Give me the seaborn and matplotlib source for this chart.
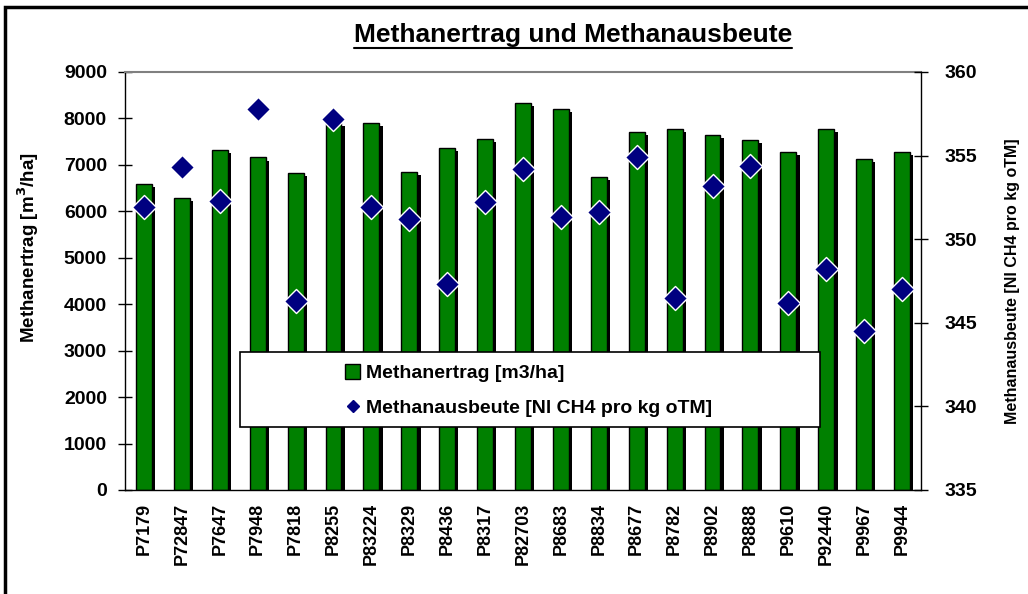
import numpy as np
import pandas as pd
import seaborn as sns
import matplotlib.pyplot as plt
from matplotlib import patheffects as pe
from matplotlib.patches import Rectangle, Patch
from matplotlib.lines import Line2D

sorten = ['P7179', 'P72847', 'P7647', 'P7948', 'P7818', 'P8255', 'P83224',
          'P8329', 'P8436', 'P8317', 'P82703', 'P8683', 'P8834', 'P8677',
          'P8782', 'P8902', 'P8888', 'P9610', 'P92440', 'P9967', 'P9944']
ertrag = [6590, 6290, 7320, 7160, 6830, 7910, 7900, 6850, 7360, 7560, 8340,
          8200, 6730, 7710, 7780, 7650, 7540, 7280, 7770, 7120, 7280]
ausbeute = [351.9, 354.3, 352.3, 357.8, 346.3, 357.2, 351.9, 351.2, 347.3,
            352.2, 354.2, 351.3, 351.6, 354.9, 346.5, 353.2, 354.4, 346.2,
            348.2, 344.5, 347.0]

df = pd.DataFrame({'Sorte': sorten, 'Ertrag': ertrag, 'Ausbeute': ausbeute})

sns.set_style('white')
plt.rcParams['font.family'] = ['Liberation Sans', 'DejaVu Sans']
plt.rcParams['font.weight'] = 'bold'
for k in ['text.color', 'axes.labelcolor', 'xtick.color', 'ytick.color']:
    plt.rcParams[k] = 'black'

W, H = 1028, 594
fig = plt.figure(figsize=(W / 100, H / 100), dpi=100)
ax = fig.add_axes([125 / W, 1 - 490 / H, 796 / W, 418 / H])

sns.barplot(data=df, x='Sorte', y='Ertrag', color='#008000', saturation=1,
            edgecolor='black', linewidth=1, width=0.42, ax=ax, zorder=2)
for bar in ax.patches:
    bar.set_path_effects([pe.SimplePatchShadow(offset=(2.4, -2.2), shadow_rgbFace='black', alpha=1),
                          pe.Normal()])

ax.set_ylim(0, 9000)
ax.set_yticks(range(0, 9001, 1000))
ax.set_xlim(-0.5, len(sorten) - 0.5)
ax.set_xticks(np.arange(-0.5, len(sorten)), minor=True)
ax.tick_params(axis='x', which='major', length=0, labelrotation=90, labelsize=13, pad=9)
ax.tick_params(axis='x', which='minor', direction='inout', length=9, width=1, color='black')
ax.tick_params(axis='y', direction='inout', length=10, width=1, color='black', labelsize=14, pad=8)
for lbl in ax.get_xticklabels() + ax.get_yticklabels():
    lbl.set_fontweight('bold')
ax.set_xlabel('')
ax.set_ylabel('Methanertrag [m$^\\mathbf{3}$/ha]', fontsize=13.5, fontweight='bold')
ax.yaxis.set_label_coords(-0.105, 0.58)
for s in ['left', 'bottom']:
    ax.spines[s].set_color('black')
    ax.spines[s].set_linewidth(1)
ax.spines['top'].set_color('#808080')
ax.spines['top'].set_linewidth(1.5)
ax.spines['right'].set_visible(False)

ax2 = ax.twinx()
sns.scatterplot(data=df, x='Sorte', y='Ausbeute', marker='D', s=150, color='#000080',
                edgecolor='white', linewidth=1, ax=ax2, zorder=5)
ax2.set_ylim(335, 360)
ax2.set_yticks(range(335, 361, 5))
ax2.tick_params(axis='y', direction='inout', length=10, width=1, color='black', labelsize=14, pad=12)
for lbl in ax2.get_yticklabels():
    lbl.set_fontweight('bold')
ax2.set_xlabel('')
ax2.set_ylabel('Methanausbeute [Nl CH4 pro kg oTM]', fontsize=11.5, fontweight='bold')
ax2.yaxis.set_label_coords(1.106, 0.5)
ax2.spines['right'].set_color('black')
ax2.spines['right'].set_linewidth(1)
for s in ['left', 'top', 'bottom']:
    ax2.spines[s].set_visible(False)

# legend box
box = Rectangle((115 / 796, 63 / 418), 580 / 796, 75 / 418, transform=ax2.transAxes,
                facecolor='white', edgecolor='black', linewidth=1.2, zorder=10)
ax2.add_patch(box)
handles = [Patch(facecolor='#008000', edgecolor='black', label='Methanertrag [m3/ha]'),
           Line2D([], [], marker='D', color='#000080', linestyle='', markersize=6,
                  label='Methanausbeute [Nl CH4 pro kg oTM]')]
leg = ax2.legend(handles=handles, loc='center left', bbox_to_anchor=(210 / 796, 99.5 / 418),
                 frameon=False, prop={'size': 14, 'weight': 'bold'}, handlelength=0.8,
                 handleheight=0.8, handletextpad=0.3, labelspacing=0.85, borderpad=0)
leg.set_zorder(11)

# title with underline
title = fig.text(573 / W, 1 - 42 / H, 'Methanertrag und Methanausbeute', ha='center',
                 va='baseline', fontsize=19, fontweight='bold')
fig.canvas.draw()
bb = title.get_window_extent()
fig.add_artist(Line2D([bb.x0 / W, bb.x1 / W], [(bb.y0 - 1) / H, (bb.y0 - 1) / H],
                      transform=fig.transFigure, color='black', linewidth=1.5))

# chart frame
fig.add_artist(Rectangle((5 / W, -0.2), 1.5, 1.2 - 7 / H, transform=fig.transFigure,
                         fill=False, edgecolor='black', linewidth=2.5))

fig.savefig('out.png', dpi=100)
